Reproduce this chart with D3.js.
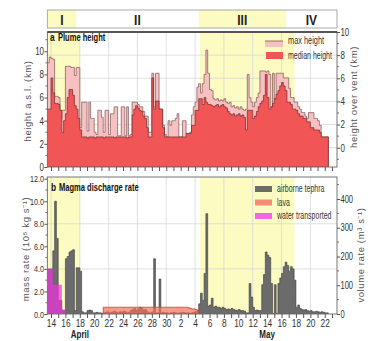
<!DOCTYPE html>
<html>
<head>
<meta charset="utf-8">
<script src="https://cdn.jsdelivr.net/npm/d3@7"></script>
<style>
  html, body { margin: 0; padding: 0; background: #fff; }
  svg { display: block; font-family: "Liberation Sans", Arial, sans-serif; }
</style>
</head>
<body>
<svg id="chart" width="371" height="341"></svg>
<script>
// Eruption time series, sampled every 6 hours from 14 April 00:00.
const STEP = 0.25; // days per sample

// Plume height above sea level (km)
const maxHeight = [
  9.0, 9.5, 9.4, 9.3, 6.1, 6.1, 6.0, 4.2, 4.9, 4.9, 8.7, 8.7, 8.7, 8.6, 8.6, 7.9, 8.6, 8.6, 3.4, 5.6,
  5.6, 5.6, 3.1, 5.6, 4.2, 4.2, 3.0, 2.8, 4.9, 4.9, 4.3, 3.0, 4.9, 4.9, 2.8, 4.6, 4.6, 5.2, 5.2, 2.7,
  2.7, 5.2, 5.2, 2.7, 5.2, 2.7, 2.8, 5.6, 5.6, 5.6, 5.4, 5.2, 5.2, 4.8, 4.4, 4.4, 3.0, 3.0, 8.1, 5.2,
  8.1, 8.1, 5.0, 5.0, 3.6, 2.8, 2.6, 4.0, 3.6, 4.0, 4.0, 4.2, 4.6, 2.6, 2.6, 4.0, 4.0, 2.9, 2.9, 3.0,
  4.5, 5.2, 5.6, 6.9, 7.2, 6.4, 7.2, 8.0, 10.1, 8.1, 6.7, 6.6, 5.9, 5.8, 5.9, 5.7, 5.8, 5.7, 5.9, 5.6,
  5.5, 5.6, 5.2, 5.3, 5.1, 5.2, 5.0, 5.2, 5.0, 4.9, 5.0, 8.0, 6.0, 5.6, 5.2, 5.6, 6.0, 6.4, 8.3, 8.3,
  8.3, 8.2, 8.3, 8.0, 5.2, 8.1, 5.9, 8.1, 8.1, 8.1, 8.1, 7.7, 7.7, 7.7, 6.8, 6.0, 6.0, 5.6, 5.6, 5.2,
  5.0, 4.7, 4.7, 4.4, 4.2, 4.7, 4.7, 4.7, 4.2, 4.2, 4.0, 3.6, 2.6, 2.6, 2.6, 2.6
];
const medianHeight = [
  5.0, 5.0, 7.7, 6.4, 5.5, 5.5, 5.4, 4.9, 3.0, 4.0, 4.6, 6.0, 6.7, 6.7, 6.2, 5.3, 5.0, 4.2, 3.2, 2.6,
  2.6, 2.6, 2.5, 2.6, 2.6, 2.6, 2.5, 2.6, 2.6, 2.6, 2.6, 2.5, 2.6, 2.6, 2.6, 2.6, 2.6, 2.5, 2.6, 2.6,
  2.6, 2.6, 2.6, 2.6, 2.5, 2.6, 2.6, 4.5, 5.0, 5.3, 5.1, 4.9, 4.8, 4.4, 4.2, 3.4, 2.6, 2.6, 7.7, 5.0,
  5.7, 5.7, 5.0, 5.0, 3.4, 2.6, 2.6, 2.6, 2.6, 2.6, 2.6, 2.6, 2.6, 2.6, 2.6, 2.6, 2.6, 2.9, 2.9, 2.9,
  3.6, 3.6, 4.9, 4.9, 5.9, 5.9, 5.4, 6.0, 5.6, 5.4, 5.4, 5.3, 5.2, 5.3, 5.4, 5.2, 5.3, 5.4, 5.2, 5.1,
  4.8, 4.6, 4.5, 4.6, 4.4, 4.5, 4.6, 4.4, 4.5, 4.3, 3.2, 4.9, 4.9, 4.9, 4.2, 4.4, 4.8, 5.2, 5.5, 5.7,
  6.2, 8.0, 6.0, 5.0, 5.2, 5.5, 5.9, 6.3, 6.6, 7.0, 7.3, 7.0, 6.6, 5.6, 5.6, 5.4, 5.0, 5.0, 4.9, 4.6,
  4.4, 4.4, 4.2, 4.2, 3.9, 3.9, 3.4, 3.4, 3.2, 3.2, 3.2, 3.0, 2.6, 2.6, 2.6, 2.6
];
const VENT_HEIGHT = 1.666; // km a.s.l.

// Magma discharge (10^5 kg/s)
const tephra = [
  4.0, 4.0, 4.0, 5.6, 10.0, 6.7, 1.2, 1.2, 0.3, 0.3, 4.9, 5.1, 5.5, 5.6, 5.7, 0.3, 4.1, 4.1, 3.8, 0.2,
  0.1, 0.1, 0.3, 0.35, 0.3, 0.1, 0.1, 0.15, 0.1, 0.1, 0.05, 0.1, 0.15, 0.2, 0.1, 0.15, 0.2, 0.25, 0.15, 0.1,
  0.2, 0.15, 0.25, 0.2, 0.1, 0.15, 0.3, 0.4, 0.5, 0.3, 0.45, 0.6, 0.5, 0.35, 0.4, 0.2, 0.1, 0.1, 0.2, 4.9,
  0.1, 0.1, 3.1, 0.1, 0.15, 0.1, 0.1, 0.05, 0.1, 0.1, 0.15, 0.1, 0.05, 0.1, 0.1, 0.15, 0.1, 0.1, 0.1, 0.05,
  0.1, 0.15, 0.2, 0.3, 0.9, 1.85, 1.2, 3.6, 8.9, 0.7, 0.8, 1.4, 0.6, 0.7, 0.6, 0.6, 0.5, 0.6, 0.5, 0.4,
  0.45, 0.4, 0.5, 0.4, 0.35, 0.3, 0.4, 0.3, 0.3, 0.25, 0.1, 0.1, 2.7, 1.5, 0.6, 0.3, 0.35, 0.3, 0.3, 2.6,
  3.5, 5.5, 5.2, 5.0, 2.7, 0.05, 2.6, 0.05, 2.7, 3.2, 3.6, 4.2, 4.6, 4.3, 3.8, 4.2, 4.0, 3.0, 0.6, 0.8,
  0.5, 0.4, 0.35, 0.4, 0.3, 0.25, 0.3, 0.2, 0.2, 0.25, 0.2, 0.15, 0.2, 0.15, 0.1, 0.1
];
const waterStart = 0;   // sample index of the first water-transported value
const water = [4.0, 4.0, 4.0, 2.6, 2.6, 2.6, 2.6, 2.6, 0.4, 0.4];
const lavaStart = 31;   // sample index of the first lava value
const lava = [
  0.6, 0.6, 0.6, 0.6, 0.6, 0.6, 0.6, 0.6, 0.6, 0.6, 0.6, 0.6, 0.6, 0.6, 0.6, 0.6, 0.6, 0.6, 0.6, 0.6,
  0.6, 0.6, 0.6, 0.6, 0.6, 0.6, 0.6, 0.6, 0.6, 0.6, 0.6, 0.6, 0.6, 0.6, 0.6, 0.6, 0.6, 0.6, 0.6, 0.6,
  0.6, 0.6, 0.6, 0.6, 0.6, 0.6, 0.6, 0.55, 0.5, 0.45, 0.45, 0.4, 0.35
];
const DRE_DENSITY = 2550; // kg/m3, mass rate -> volume rate

// Eruption phases (days after 14 April 00:00)
const phaseNames = ["I", "II", "III", "IV"];
const phaseStart = [0, 4.0, 21.0, 33.1];
const phaseEnd = [4.0, 21.0, 33.1, 40.2];
const phaseShaded = [true, false, true, false];
const shadeStart = [0, 21.15];
const shadeEnd = [4.55, 34.3];

// Date ticks
const aprilDays = [14, 16, 18, 20, 22, 24, 26, 28, 30];
const mayDays = [2, 4, 6, 8, 10, 12, 14, 16, 18, 20, 22];
const heightTicks = [0, 2, 4, 6, 8, 10];
const ventTicks = [0, 2, 4, 6, 8, 10];
const massTicks = [0, 2, 4, 6, 8, 10, 12];
const volumeTicks = [0, 100, 200, 300, 400];

// ---------------------------------------------------------------
const svg = d3.select("#chart");
const YELLOW = "#fbfbc2";
const GRID = "#d8d8d8";
const FRAME = "#777";
const TXT = "#333";
const SX = 0.76; // horizontal squeeze applied to all upright text

const left = 47.4, right = 337;
const x = d3.scaleLinear().domain([0, 40.2]).range([left, right]);
const dayPos = (month, d) => (month === 4 ? d - 14 : d + 16) + 0.5;

const aTop = 32, aBot = 167;
const yA = d3.scaleLinear().domain([0, VENT_HEIGHT + 10]).range([aBot, aTop]);
const yVent = d3.scaleLinear().domain([-VENT_HEIGHT, 10]).range([aBot, aTop]);

const bTop = 177, bBot = 314;
const yB = d3.scaleLinear().domain([0, 12.15]).range([bBot, bTop]);
const yVol = d3.scaleLinear().domain([0, 12.15 * 1e5 / DRE_DENSITY]).range([bBot, bTop]);

const series = (values, start) => {
  const pts = values.map((v, i) => ({ t: (start + i) * STEP, v }));
  pts.push({ t: (start + values.length) * STEP, v: values[values.length - 1] });
  return pts;
};

// upright text, squeezed horizontally
function label(parent, px, py, str, size, opts = {}) {
  const t = parent.append("text")
    .attr("transform", `translate(${px},${py}) scale(${opts.sx || SX},1)`)
    .attr("font-size", size)
    .attr("fill", opts.fill || TXT)
    .attr("text-anchor", opts.anchor || "start");
  if (opts.bold) t.attr("font-weight", "bold");
  t.text(str);
  return t;
}

const defs = svg.append("defs");
defs.append("clipPath").attr("id", "clipA").append("rect")
  .attr("x", left).attr("y", aTop).attr("width", right - left).attr("height", aBot - aTop);
defs.append("clipPath").attr("id", "clipB").append("rect")
  .attr("x", left).attr("y", bTop).attr("width", right - left).attr("height", bBot - bTop);

// ---- phase band ----
const band = svg.append("g");
band.append("rect").attr("x", left).attr("y", 10).attr("width", right - left).attr("height", 18)
  .attr("fill", "#fff");
phaseNames.forEach((p, i) => {
  if (phaseShaded[i]) {
    band.append("rect").attr("x", x(phaseStart[i])).attr("y", 10)
      .attr("width", x(phaseEnd[i]) - x(phaseStart[i])).attr("height", 18).attr("fill", YELLOW);
  }
  label(band, (x(phaseStart[i]) + x(phaseEnd[i])) / 2, 24.5, p, 15,
    { anchor: "middle", bold: true, fill: "#222", sx: 0.8 });
});
band.append("rect").attr("x", left).attr("y", 10).attr("width", right - left).attr("height", 18)
  .attr("fill", "none").attr("stroke", "#aaa");

// ---- panel background, shading and grid ----
function panelBackground(top, bot, hGrid) {
  const g = svg.append("g");
  g.append("rect").attr("x", left).attr("y", top).attr("width", right - left).attr("height", bot - top).attr("fill", "#fff");
  shadeStart.forEach((s, i) => {
    g.append("rect").attr("x", x(s)).attr("y", top).attr("width", x(shadeEnd[i]) - x(s))
      .attr("height", bot - top).attr("fill", YELLOW);
  });
  d3.range(0, 40, 4).map(i => i + 0.5).forEach(t => {
    g.append("line").attr("x1", x(t)).attr("x2", x(t)).attr("y1", top).attr("y2", bot)
      .attr("stroke", GRID).attr("stroke-width", 0.8);
  });
  hGrid.forEach(yv => {
    g.append("line").attr("x1", left).attr("x2", right).attr("y1", yv).attr("y2", yv)
      .attr("stroke", GRID).attr("stroke-width", 0.8);
  });
}
panelBackground(aTop, aBot, [0, 2, 4, 6, 8].map(v => yVent(v)));
panelBackground(bTop, bBot, [4, 8].map(v => yB(v)));

// ---- panel a: plume heights ----
const gA = svg.append("g").attr("clip-path", "url(#clipA)");
const areaA = d3.area().curve(d3.curveStepAfter).x(d => x(d.t)).y0(yA(0)).y1(d => yA(d.v));
gA.append("path").datum(series(maxHeight, 0)).attr("d", areaA)
  .attr("fill", "#f8c1c1").attr("stroke", "#7d5555").attr("stroke-width", 0.7);
gA.append("path").datum(series(medianHeight, 0)).attr("d", areaA)
  .attr("fill", "#f25555").attr("stroke", "#6e2a2a").attr("stroke-width", 0.7);

// ---- panel b: discharge rates ----
const gB = svg.append("g").attr("clip-path", "url(#clipB)");
const areaB = d3.area().curve(d3.curveStepAfter).x(d => x(d.t)).y0(yB(0)).y1(d => yB(d.v));
gB.append("path").datum(series(tephra, 0)).attr("d", areaB)
  .attr("fill", "#6b6b6b").attr("stroke", "#3c3c3c").attr("stroke-width", 0.6);
gB.append("path").datum(series(lava, lavaStart)).attr("d", areaB)
  .attr("fill", "#f27055").attr("fill-opacity", 0.7).attr("stroke", "#c83c3c").attr("stroke-width", 0.8);
gB.append("path").datum(series(water, waterStart)).attr("d", areaB)
  .attr("fill", "#ee33dd").attr("fill-opacity", 0.72).attr("stroke", "none");

// ---- frames ----
[[aTop, aBot], [bTop, bBot]].forEach(([t, b]) => {
  svg.append("rect").attr("x", left).attr("y", t).attr("width", right - left).attr("height", b - t)
    .attr("fill", "none").attr("stroke", FRAME).attr("stroke-width", 1);
});
svg.append("line").attr("x1", left).attr("x2", right).attr("y1", aTop).attr("y2", aTop)
  .attr("stroke", "#333").attr("stroke-width", 1.3);

// ---- axes ----
function styleAxis(g, fs) {
  g.select(".domain").remove();
  g.selectAll(".tick line").attr("stroke", "#555");
  g.selectAll(".tick text").attr("fill", TXT).attr("font-size", fs)
    .attr("transform", `scale(${SX},1)`);
}
function minorTicks(values, pos, side, len) {
  values.forEach(v => {
    const yy = pos(v);
    const x0 = side === "left" ? left : right;
    const dx = side === "left" ? -len : len;
    svg.append("line").attr("x1", x0).attr("x2", x0 + dx).attr("y1", yy).attr("y2", yy)
      .attr("stroke", "#555").attr("stroke-width", 0.8);
  });
}

styleAxis(svg.append("g").attr("transform", `translate(${left},0)`)
  .call(d3.axisLeft(yA).tickValues(heightTicks).tickSize(3).tickPadding(1.5).tickFormat(d3.format("d"))), 10.5);
minorTicks([1, 3, 5, 7, 9, 11], yA, "left", 2);
styleAxis(svg.append("g").attr("transform", `translate(${right},0)`)
  .call(d3.axisRight(yVent).tickValues(ventTicks).tickSize(3).tickPadding(1.5).tickFormat(d3.format("d"))), 10.5);
minorTicks([-1, 1, 3, 5, 7, 9], yVent, "right", 2);

styleAxis(svg.append("g").attr("transform", `translate(${left},0)`)
  .call(d3.axisLeft(yB).tickValues(massTicks).tickSize(3).tickPadding(1.5).tickFormat(d3.format(".1f"))), 9.5);
minorTicks([1, 3, 5, 7, 9, 11], yB, "left", 2);
styleAxis(svg.append("g").attr("transform", `translate(${right},0)`)
  .call(d3.axisRight(yVol).tickValues(volumeTicks).tickSize(3).tickPadding(1.5).tickFormat(d3.format("d"))), 10);
minorTicks([50, 150, 250, 350, 450], yVol, "right", 2);

// daily ticks under both panels
const dailyTicks = d3.range(0, 40).map(i => i + 0.5);
styleAxis(svg.append("g").attr("transform", `translate(0,${aBot})`)
  .call(d3.axisBottom(x).tickValues(dailyTicks).tickSize(4).tickFormat("")), 10);

const labelled = aprilDays.map(d => ({ t: dayPos(4, d), s: String(d) }))
  .concat(mayDays.map(d => ({ t: dayPos(5, d), s: String(d) })));
const labelMap = new Map(labelled.map(l => [l.t, l.s]));
styleAxis(svg.append("g").attr("transform", `translate(0,${bBot})`)
  .call(d3.axisBottom(x).tickValues(dailyTicks).tickSize(4).tickPadding(1.5)
    .tickFormat(t => labelMap.get(t) || "")), 11);

label(svg, x(dayPos(4, 18)), 338, "April", 10, { anchor: "middle", bold: true, fill: "#222", sx: 0.8 });
label(svg, x(dayPos(5, 14)), 338, "May", 10, { anchor: "middle", bold: true, fill: "#222", sx: 0.8 });

// ---- axis titles ----
function vTitle(cx, cy, txt) {
  svg.append("text").attr("transform", `translate(${cx},${cy}) rotate(-90)`)
    .attr("text-anchor", "middle").attr("fill", "#555")
    .attr("letter-spacing", 0.6).attr("font-size", 9.5)
    .text(txt);
}
vTitle(31, 101, "height a.s.l. (km)");
vTitle(357, 97, "height over vent (km)");
vTitle(29, 249, "mass rate (10\u2075 kg s\u207B\u00B9)");
vTitle(364, 255, "volume rate (m\u00B3 s\u207B\u00B9)");

// ---- panel titles ----
label(svg, 50, 41, "a", 10.5, { bold: true, fill: "#111", sx: 0.8 });
label(svg, 58, 41, "Plume height", 10.5, { bold: true, fill: "#111", sx: 0.72 });
label(svg, 51, 191, "b", 10.5, { bold: true, fill: "#111", sx: 0.8 });
label(svg, 59, 191, "Magma discharge rate", 10.5, { bold: true, fill: "#111", sx: 0.72 });

// ---- legends ----
const legA = svg.append("g");
legA.append("rect").attr("x", 265).attr("y", 41).attr("width", 18).attr("height", 6).attr("fill", "#f8c1c1");
legA.append("line").attr("x1", 265).attr("x2", 283).attr("y1", 41).attr("y2", 41).attr("stroke", "#7d5555").attr("stroke-width", 0.8);
label(legA, 288, 44, "max height", 10, { sx: 0.74 });
legA.append("rect").attr("x", 266).attr("y", 52).attr("width", 17).attr("height", 7).attr("fill", "#f25555");
label(legA, 288, 59, "median height", 10, { sx: 0.7 });

const legB = svg.append("g");
const legItems = [
  { name: "airborne tephra", color: "#6b6b6b" },
  { name: "lava", color: "#f58d77" },
  { name: "water transported", color: "#f266e6" }
];
legItems.forEach((it, i) => {
  const yy = 186 + i * 13.5;
  legB.append("rect").attr("x", 255).attr("y", yy).attr("width", 17).attr("height", 6).attr("fill", it.color);
  label(legB, 277, yy + 6, it.name, 10, { sx: 0.7 });
});
</script>
</body>
</html>
